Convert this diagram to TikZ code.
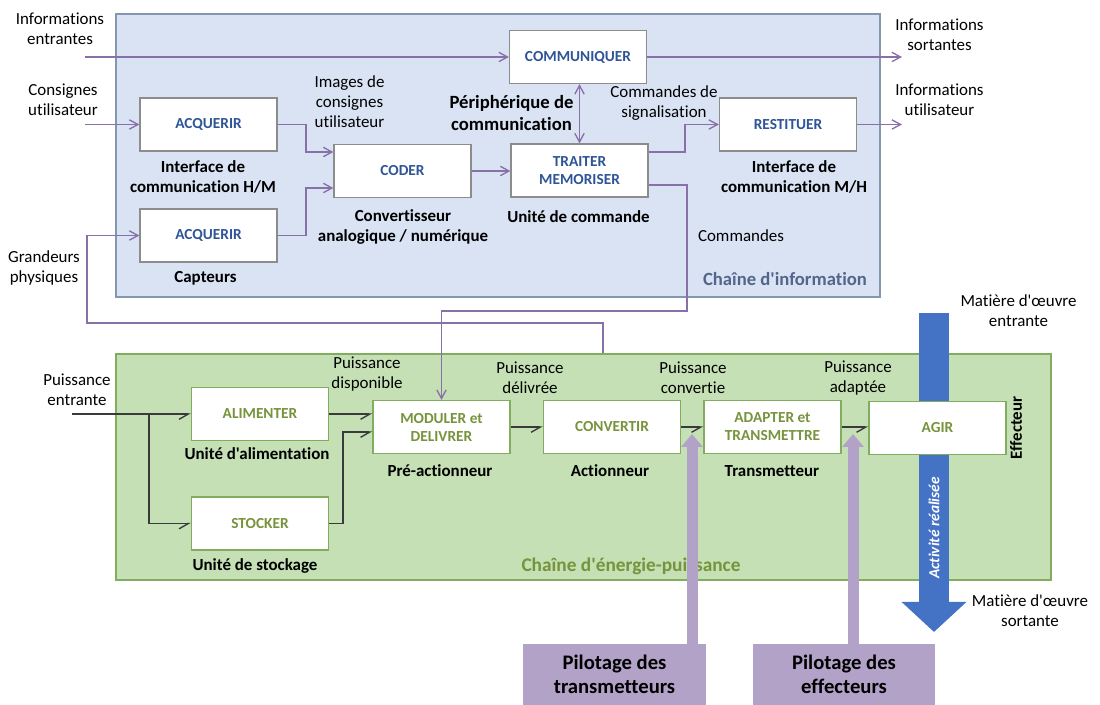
\documentclass[tikz,border=0pt]{standalone}
\usepackage{fontspec}
\setmainfont{Carlito}[Ligatures={TeXOff,NoCommon}]
\usetikzlibrary{arrows.meta}
\newcommand{\sq}{\char39\relax}
\definecolor{infofill}{HTML}{DAE3F3}
\definecolor{infoborder}{HTML}{8497B0}
\definecolor{nodegray}{HTML}{8C8C8C}
\definecolor{nodeblue}{HTML}{2F5597}
\definecolor{enefill}{HTML}{C5E0B4}
\definecolor{eneborder}{HTML}{82AD5E}
\definecolor{gtext}{HTML}{77933C}
\definecolor{infotitle}{HTML}{53668A}
\definecolor{purpline}{HTML}{8870A8}
\definecolor{darkline}{HTML}{3A3A3A}
\definecolor{arrowblue}{HTML}{4472C4}
\definecolor{pilot}{HTML}{B3A2C7}
\begin{document}
\begin{tikzpicture}[x=0.75pt,y=-0.75pt,
  >={Straight Barb[length=6.5pt,width=7pt]},
  ibox/.style={draw=nodegray, fill=white, line width=0.9pt, minimum width=102.75pt, minimum height=39.75pt, inner sep=0pt, align=center, font=\fontsize{11.5}{13.5}\selectfont\bfseries, text=nodeblue},
  gbox/.style={ibox, draw=eneborder, text=gtext},
  lbl/.style={align=center, inner sep=0pt, font=\fontsize{12.7}{15}\selectfont},
  blbl/.style={align=center, inner sep=0pt, font=\fontsize{12.7}{15}\selectfont\bfseries},
  parr/.style={draw=purpline, line width=1pt, ->},
  garr/.style={draw=darkline, line width=1pt, -{Straight Barb[harpoon,swap,length=7pt,width=8pt]}},
  pbox/.style={fill=pilot, inner sep=0pt, minimum height=45.75pt, align=center, font=\fontsize{15.5}{18}\selectfont\bfseries},
  bigtip/.style={line width=8.25pt, draw=pilot, -{Triangle[width=15.75pt,length=9.75pt]}}
]
\useasboundingbox (0,0) rectangle (1100,705);

% ---- containers
\node[draw=infoborder, fill=infofill, line width=1pt, minimum width=573pt, minimum height=212.25pt, inner sep=0pt] (info) at (498,155.5) {};
\node[draw=eneborder, fill=enefill, line width=1pt, minimum width=701.25pt, minimum height=169.5pt, inner sep=0pt] (ene) at (583.5,467) {};

% ---- information chain nodes
\node[ibox] (acq1) at (208.5,124.5) {ACQUERIR};
\node[ibox] (acq2) at (208.5,235.5) {ACQUERIR};
\node[ibox] (coder) at (402.5,171) {CODER};
\node[ibox] (comm) at (578,57) {COMMUNIQUER};
\node[ibox] (traiter) at (579.5,170.5) {TRAITER\\MEMORISER};
\node[ibox] (restit) at (788,124.5) {RESTITUER};

% ---- labels information chain
\node[lbl] (tie) at (60,29) {Informations\\entrantes};
\node[lbl] (tcu) at (63,100) {Consignes\\utilisateur};
\node[lbl] (tgp) at (44,268) {Grandeurs\\physiques};
\node[lbl] (timg) at (349.5,101.5) {Images de\\consignes\\utilisateur};
\node[blbl] (thm) at (203,177) {Interface de\\communication H/M};
\node[blbl] (tcap) at (205.5,278) {Capteurs};
\node[blbl] (tcan) at (403,227) {Convertisseur\\analogique / numérique};
\node[align=center, inner sep=0pt, font=\fontsize{14}{16.5}\selectfont\bfseries] (tper) at (511.5,113) {Périphérique de\\communication};
\node[lbl] (tcs) at (664,103.5) {Commandes de\\signalisation};
\node[blbl] (tuc) at (578.5,217) {Unité de commande};
\node[blbl] (tmh) at (794,177) {Interface de\\communication M/H};
\node[lbl] (tcmd) at (741,236) {Commandes};
\node[inner sep=0pt, font=\fontsize{14}{16}\selectfont\bfseries, text=infotitle] (tci) at (785,279) {Chaîne d\sq information};
\node[lbl] (tis) at (939.5,35) {Informations\\sortantes};
\node[lbl] (tiu) at (939.5,100) {Informations\\utilisateur};

% ---- information chain connectors
\coordinate (ie) at (85,57);
\coordinate (os) at (902,57);
\coordinate (cu) at (85,124.5);
\coordinate (iu) at (902,124.5);
\draw[parr] (ie) -- (comm.west);
\draw[parr] (comm.east) -- (os);
\draw[parr] (cu) -- (acq1.west);
\draw[parr] (acq1.east) -- (306,124.5) |- (coder.west |- 0,152);
\draw[parr] (acq2.east) -- (306,235.5) |- (coder.west |- 0,188);
\draw[parr] (coder.east) -- (coder.east -| traiter.west);
\draw[parr,<->] (traiter.north) -- (traiter.north |- comm.south);
\draw[parr] (traiter.east |- 0,152) -- (685,152) |- (restit.west);
\draw[parr] (restit.east) -- (iu);

% ---- energy chain nodes
\node[gbox] (alim) at (260,414) {ALIMENTER};
\node[gbox] (stock) at (260,523.5) {STOCKER};
\node[gbox] (modul) at (441.5,427) {MODULER et\\DELIVRER};
\node[gbox] (conv) at (612,427) {CONVERTIR};
\node[gbox] (adapt) at (772.5,427) {ADAPTER et\\TRANSMETTRE};

% links between chains
\draw[parr] (traiter.east |- 0,185) -- (687,185) -- (687,311) -| (modul.north);
\draw[parr] (ene.north -| 603,0) -- (603,323) -| (87,235.5) -- (acq2.west);

% blue material arrow
\draw[line width=22.5pt, draw=arrowblue, -{Triangle[width=47.25pt,length=22.5pt]}] (934,313) -- (934,632);
\node[gbox] (agir) at (937.5,428) {AGIR};
\node[rotate=90, inner sep=0pt, text=white, font=\fontsize{11.5}{13}\selectfont\bfseries\itshape] (tact) at (934,528) {Activité réalisée};

% ---- energy labels
\node[lbl] (tpe) at (77,390) {Puissance\\entrante};
\node[lbl] (tpd) at (367,374) {Puissance\\disponible};
\node[lbl] (tpdl) at (530,378) {Puissance\\délivrée};
\node[lbl] (tpc) at (693,378) {Puissance\\convertie};
\node[lbl] (tpa) at (858,378) {Puissance\\adaptée};
\node[blbl] (tua) at (257,454) {Unité d\sq alimentation};
\node[blbl] (tus) at (255,566) {Unité de stockage};
\node[blbl] (tpa2) at (440,471) {Pré-actionneur};
\node[blbl] (tac) at (610,471) {Actionneur};
\node[blbl] (ttr) at (772,471) {Transmetteur};
\node[blbl, rotate=90] (teff) at (1016,428) {Effecteur};
\node[inner sep=0pt, font=\fontsize{14.5}{16}\selectfont\bfseries, text=gtext] (tce) at (631,566) {Chaîne d\sq énergie-puissance};
\node[lbl] (tme) at (1018.5,311) {Matière d\sq œuvre\\entrante};
\node[lbl] (tms) at (1030,611) {Matière d\sq œuvre\\sortante};

% ---- energy connectors
\coordinate (pe) at (72,414);
\draw[garr] (pe) -- (alim.west);
\draw[garr] (149,414) |- (stock.west);
\draw[garr] (alim.east) -- (alim.east -| modul.west);
\draw[garr] (stock.east) -- (343,523.5) |- (modul.west |- 0,432);
\draw[garr] (modul.east) -- (conv.west);
\draw[garr] (conv.east) -- (adapt.west);
\draw[garr] (adapt.east) -- (adapt.east -| agir.west);

% ---- pilotage
\node[pbox, minimum width=137.25pt] (pil1) at (614.5,674.5) {Pilotage des\\transmetteurs};
\node[pbox, minimum width=136.5pt] (pil2) at (844,674.5) {Pilotage des\\effecteurs};
\draw[bigtip] (pil1.north -| 692,0) -- (692,434);
\draw[bigtip] (pil2.north -| 853,0) -- (853,434);
\end{tikzpicture}
\end{document}
